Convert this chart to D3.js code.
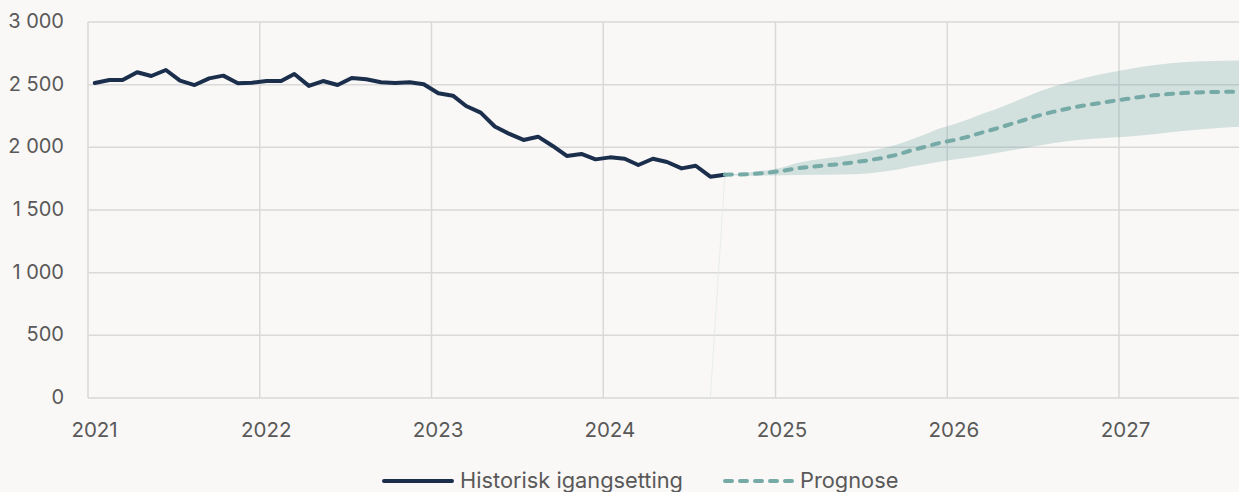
<!DOCTYPE html>
<html>
<head>
<meta charset="utf-8">
<script src="https://cdn.jsdelivr.net/npm/d3@7"></script>
<style>
  html, body { margin: 0; padding: 0; background: #f9f8f6; }
  svg { display: block; }
  text { font-family: "Inter", "Roboto", sans-serif; fill: #595959; }
</style>
</head>
<body>
<svg id="chart" width="1239" height="492"></svg>
<script>
// ---- Data ----
const histStart = [2021, 0];           // Jan 2021
const histValues = [
  2513, 2537, 2537, 2599, 2569, 2617, 2532, 2497, 2550, 2572, 2511, 2516,
  2529, 2529, 2585, 2490, 2529, 2497, 2553, 2543, 2519, 2513, 2519, 2503,
  2431, 2412, 2330, 2277, 2166, 2107, 2059, 2085, 2011, 1931, 1947, 1904,
  1920, 1909, 1859, 1909, 1883, 1832, 1853, 1766, 1782
];
const fcStart = [2024, 8];             // Sep 2024
const fcValues = [
  1782, 1783, 1788, 1798,
  1812, 1832, 1845, 1855, 1865, 1880, 1895, 1915, 1940, 1975, 2005, 2035,
  2058, 2085, 2118, 2150, 2185, 2220, 2255, 2285, 2310, 2332, 2350, 2368,
  2385, 2402, 2415, 2425, 2433, 2438, 2441, 2443, 2445
];
const upperValues = [
  1782, 1790, 1805, 1818,
  1840, 1875, 1895, 1910, 1925, 1945, 1965, 1990, 2020, 2060, 2105, 2150,
  2185, 2225, 2265, 2305, 2350, 2400, 2445, 2485, 2520, 2550, 2578, 2600,
  2620, 2640, 2655, 2668, 2678, 2684, 2688, 2690, 2692
];
const lowerValues = [
  1782, 1776, 1774, 1775,
  1778, 1780, 1781, 1782, 1783, 1786, 1792, 1805, 1822, 1845, 1865, 1885,
  1902, 1918, 1935, 1955, 1975, 1995, 2015, 2035, 2050, 2062, 2070, 2078,
  2085, 2095, 2105, 2118, 2130, 2140, 2150, 2158, 2165
];
// band edge artefact: the band series is 0 the month before it starts
const bandEdge = [{ m: [2024, 7], v: 0 }, { m: [2024, 8], v: 1782 }];
const yTicks = [0, 500, 1000, 1500, 2000, 2500, 3000];
const xTickYears = [2021, 2022, 2023, 2024, 2025, 2026, 2027];
const legendLabels = ["Historisk igangsetting", "Prognose"];

// ---- Layout ----
const plotL = 88, plotR = 1239, plotT = 22, plotB = 398;
const svg = d3.select("#chart");

const midMonth = (yy, m) => new Date(Date.UTC(yy, m, 15, 12));
const x = d3.scaleUtc()
  .domain([new Date(Date.UTC(2021, 0, 1)), new Date(Date.UTC(2027, 0, 1))])
  .range([plotL, 1119]);
const y = d3.scaleLinear().domain([0, 3000]).range([plotB, plotT]);

const hist = histValues.map((v, i) => ({ d: midMonth(histStart[0], histStart[1] + i), v }));
const fc = fcValues.map((v, i) => ({
  d: midMonth(fcStart[0], fcStart[1] + i), v, hi: upperValues[i], lo: lowerValues[i]
}));

svg.append("defs").append("clipPath").attr("id", "plot")
  .append("rect").attr("x", plotL).attr("y", 0).attr("width", plotR - plotL).attr("height", plotB + 2);

const gridColor = "#d9d9d9";

// horizontal grid
svg.append("g").selectAll("line").data(yTicks).join("line")
  .attr("x1", plotL).attr("x2", plotR)
  .attr("y1", d => y(d)).attr("y2", d => y(d))
  .attr("stroke", gridColor).attr("stroke-width", 1.5);

// vertical grid
svg.append("g").selectAll("line").data(xTickYears).join("line")
  .attr("x1", d => x(new Date(Date.UTC(d, 0, 1)))).attr("x2", d => x(new Date(Date.UTC(d, 0, 1))))
  .attr("y1", plotT).attr("y2", plotB)
  .attr("stroke", gridColor).attr("stroke-width", 1.5);

// y labels
const fmt = d3.formatLocale({ decimal: ",", thousands: " ", grouping: [3], currency: ["", ""] }).format(",d");
svg.append("g").selectAll("text").data(yTicks).join("text")
  .attr("x", 64).attr("y", d => y(d) - 1)
  .attr("text-anchor", "end").attr("dominant-baseline", "central")
  .attr("font-size", 20)
  .text(d => fmt(d));

// x labels
svg.append("g").selectAll("text").data(xTickYears).join("text")
  .attr("x", d => x(new Date(Date.UTC(d, 0, 15))))
  .attr("y", 429)
  .attr("text-anchor", "middle").attr("dominant-baseline", "central")
  .attr("font-size", 20.5)
  .text(d => d);

const plot = svg.append("g").attr("clip-path", "url(#plot)");

// band
plot.append("path").datum(fc)
  .attr("d", d3.area().x(d => x(d.d)).y0(d => y(d.lo)).y1(d => y(d.hi)))
  .attr("fill", "#76aaa7").attr("fill-opacity", 0.3);

// faint band edge
plot.append("path").datum(bandEdge)
  .attr("d", d3.line().x(d => x(midMonth(d.m[0], d.m[1]))).y(d => y(d.v)))
  .attr("stroke", "#e2eaea").attr("stroke-width", 0.8).attr("fill", "none");

// history line
plot.append("path").datum(hist)
  .attr("d", d3.line().x(d => x(d.d)).y(d => y(d.v)))
  .attr("fill", "none").attr("stroke", "#1b2f4d").attr("stroke-width", 4)
  .attr("stroke-linejoin", "round").attr("stroke-linecap", "round");

// forecast line
plot.append("path").datum(fc)
  .attr("d", d3.line().x(d => x(d.d)).y(d => y(d.v)))
  .attr("fill", "none").attr("stroke", "#76aaa7").attr("stroke-width", 4)
  .attr("stroke-dasharray", "7,8").attr("stroke-linecap", "round");

// legend
const leg = svg.append("g");
leg.append("line").attr("x1", 384).attr("x2", 452).attr("y1", 481).attr("y2", 481)
  .attr("stroke", "#1b2f4d").attr("stroke-width", 4).attr("stroke-linecap", "round");
leg.append("text").attr("x", 460).attr("y", 480).attr("dominant-baseline", "central")
  .attr("font-size", 21.8).text(legendLabels[0]);
leg.append("line").attr("x1", 725).attr("x2", 792).attr("y1", 481).attr("y2", 481)
  .attr("stroke", "#76aaa7").attr("stroke-width", 4).attr("stroke-linecap", "round")
  .attr("stroke-dasharray", "7,8");
leg.append("text").attr("x", 800).attr("y", 480).attr("dominant-baseline", "central")
  .attr("font-size", 21.8).text(legendLabels[1]);
</script>
</body>
</html>
